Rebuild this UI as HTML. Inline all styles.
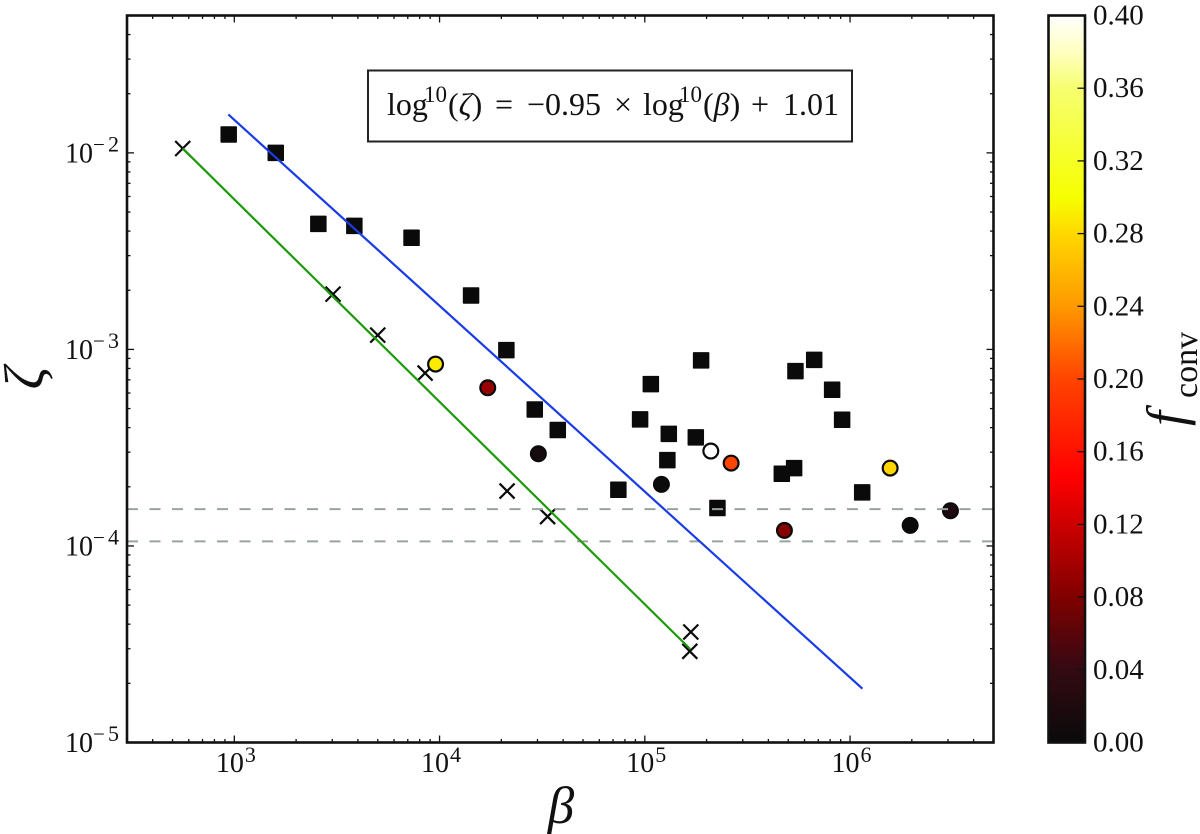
<!DOCTYPE html>
<html lang="en">
<head>
<meta charset="utf-8">
<title>Zeta vs beta scatter chart</title>
<style>
html,body{margin:0;padding:0;background:#fff;width:1200px;height:834px;overflow:hidden}
svg{display:block}
text{font-family:"Liberation Serif",serif;fill:#111}
</style>
</head>
<body>
<svg id="chart" xmlns="http://www.w3.org/2000/svg" width="1200" height="834" viewBox="0 0 1200 834">
  <defs>
    <linearGradient id="hot-gradient" x1="0" y1="1" x2="0" y2="0"></linearGradient>
  </defs>
  <rect x="0" y="0" width="1200" height="834" fill="#fff"/>
  <g id="marks"></g>
  <g id="axes"></g>
  <g id="colorbar"></g>

  <g>
    <rect x="368" y="70.5" width="484" height="71" fill="#fff" stroke="#222" stroke-width="2"/>
    <text font-size="32" y="115"><tspan x="387">log</tspan><tspan x="424" y="102" font-size="23">10</tspan><tspan x="448" y="115">(</tspan><tspan font-style="italic">ζ</tspan><tspan>)</tspan><tspan x="495">=</tspan><tspan x="527">−0.95</tspan><tspan x="614">×</tspan><tspan x="643">log</tspan><tspan x="679" y="102" font-size="23">10</tspan><tspan x="703" y="115">(</tspan><tspan font-style="italic">β</tspan><tspan>)</tspan><tspan x="751">+</tspan><tspan x="783">1.01</tspan></text>
  </g>

  <text font-size="56" font-style="italic" text-anchor="middle" transform="translate(43,378) rotate(-90)">ζ</text>
  <text font-size="53" font-style="italic" text-anchor="middle" x="561" y="823">β</text>
  <text transform="translate(1184,426) rotate(-90)"><tspan font-size="54" font-style="italic">f</tspan><tspan font-size="34" dy="13" dx="13">conv</tspan></text>
</svg>

<script>
// ----- chart data -----
var squareBeta = [939,1592,2567,3844,7303,14240,21160,29100,37670,74330,94860,107000,130900,128800,188100,177200,225900,465100,534000,542000,669000,818000,915000,1146000];
var squareZeta = [0.01241,0.0100,0.00435,0.00425,0.00370,0.001882,0.000992,0.000495,0.000389,0.0001932,0.0004405,0.000666,0.000372,0.0002735,0.000879,0.000357,0.0001559,0.000233,0.000249,0.000776,0.000885,0.000623,0.0004385,0.0001873];

var circleBeta = [9561,17170,30300,120500,209700,263400,479000,1568000,1963000,3085000];
var circleZeta = [0.000842,0.000638,0.0002944,0.0002057,0.000304,0.000264,0.000120,0.000249,0.0001273,0.000151];
var circleFconv = [0.29,0.092,0.012,0.003,0.40,0.20,0.083,0.278,0.0,0.018];

var crossBeta = [560.5,3027,4998,8500,21330,33600,167600,165700];
var crossZeta = [0.01053,0.001911,0.001182,0.000758,0.0001903,0.0001411,0.0000365,0.0000291];

var blueLineBeta = [935,1149000];
var blueLineZeta = [0.01568,0.00001878];
var greenLineBeta = [560.5,166300];
var greenLineZeta = [0.01053,0.0000299];

var thresholdZeta = [0.000154,0.0001055];

var xDecades = [3,4,5,6];
var yDecades = [-2,-3,-4,-5];
var xLimits = [300,5000000];
var yLimits = [0.00001,0.05];
var minorMultipliers = [2,3,4,5,6,7,8,9];

var colorbarTicks = ["0.00","0.04","0.08","0.12","0.16","0.20","0.24","0.28","0.32","0.36","0.40"];
var colorbarLimits = [0,0.4];
var cmapLevels = [0,0.04,0.08,0.146,0.2,0.24,0.28,0.30,0.36,0.38,0.4];
var cmapColors = ["#0a0a0a","#330a12","#800000","#ff0000","#ff4400","#ff9900","#ffd800","#f6ff00","#f6ff70","#ffffc0","#ffffff"];

// ----- frame geometry and axis functions -----
var L = 127, R = 993.5, T = 15.5, B = 742.5;
var CL = 1048.5, CR = 1085;
var SVGNS = "http://www.w3.org/2000/svg";

function sx(v){
  var a = Math.log10(xLimits[0]), b = Math.log10(xLimits[1]);
  return L + (Math.log10(v) - a) / (b - a) * (R - L);
}
function sy(v){
  var a = Math.log10(yLimits[0]), b = Math.log10(yLimits[1]);
  return B - (Math.log10(v) - a) / (b - a) * (B - T);
}
function cy(v){
  return B - (v - colorbarLimits[0]) / (colorbarLimits[1] - colorbarLimits[0]) * (B - T);
}
function hexToRgb(h){
  return [parseInt(h.substr(1,2),16),parseInt(h.substr(3,2),16),parseInt(h.substr(5,2),16)];
}
function cmap(f){
  var i = 0;
  if (f <= cmapLevels[0]) return cmapColors[0];
  if (f >= cmapLevels[cmapLevels.length-1]) return cmapColors[cmapColors.length-1];
  while (f > cmapLevels[i+1]) i++;
  var t = (f - cmapLevels[i]) / (cmapLevels[i+1] - cmapLevels[i]);
  var a = hexToRgb(cmapColors[i]), b = hexToRgb(cmapColors[i+1]);
  return "rgb(" + Math.round(a[0]+(b[0]-a[0])*t) + "," + Math.round(a[1]+(b[1]-a[1])*t) + "," + Math.round(a[2]+(b[2]-a[2])*t) + ")";
}
function mk(tag, attrs, parent){
  var el = document.createElementNS(SVGNS, tag);
  for (var k in attrs) el.setAttribute(k, attrs[k]);
  parent.appendChild(el);
  return el;
}

var marks = document.getElementById("marks");
var axes = document.getElementById("axes");
var cbar = document.getElementById("colorbar");

// ----- crosses -----
crossBeta.forEach(function(b, i){
  var x = sx(b), y = sy(crossZeta[i]), r = 7.5;
  var el = mk("path", {d:"M"+(x-r)+" "+(y-r)+"L"+(x+r)+" "+(y+r)+"M"+(x-r)+" "+(y+r)+"L"+(x+r)+" "+(y-r), stroke:"#0a0a0a", "stroke-width":2.2, fill:"none"}, marks);
  
  
});

// ----- squares -----
squareBeta.forEach(function(b, i){
  var x = sx(b), y = sy(squareZeta[i]), s = 16.5;
  var el = mk("rect", {x:x-s/2, y:y-s/2, width:s, height:s, rx:0.8, fill:"#0a0a0a"}, marks);
  
  
});

// ----- circles -----
circleBeta.forEach(function(b, i){
  var el = mk("circle", {cx:sx(b), cy:sy(circleZeta[i]), r:7.4, fill:cmap(circleFconv[i]), stroke:"#0a0a0a", "stroke-width":2.2}, marks);
  
  
});

// ----- threshold dashed lines -----
thresholdZeta.forEach(function(z){
  var el = mk("line", {x1:L, x2:R, y1:sy(z), y2:sy(z), stroke:"#98a3a0", "stroke-width":2, "stroke-dasharray":"11 11.5"}, marks);
  
  
});

// ----- fit lines -----
var blueLine = mk("line", {x1:sx(blueLineBeta[0]), y1:sy(blueLineZeta[0]), x2:sx(blueLineBeta[1]), y2:sy(blueLineZeta[1]), stroke:"#1a3ce8", "stroke-width":2.2}, marks);


var greenLine = mk("line", {x1:sx(greenLineBeta[0]), y1:sy(greenLineZeta[0]), x2:sx(greenLineBeta[1]), y2:sy(greenLineZeta[1]), stroke:"#1d9a0c", "stroke-width":2.2}, marks);



// ----- ticks -----
function tickX(px, len){
  var a = mk("line", {x1:px, x2:px, y1:B, y2:B-len, stroke:"#111", "stroke-width":1.3}, axes);
  
  
  var b = mk("line", {x1:px, x2:px, y1:T, y2:T+len, stroke:"#111", "stroke-width":1.3}, axes);
  
  
}
function tickY(py, len){
  var a = mk("line", {x1:L, x2:L+len, y1:py, y2:py, stroke:"#111", "stroke-width":1.3}, axes);
  
  
  var b = mk("line", {x1:R, x2:R-len, y1:py, y2:py, stroke:"#111", "stroke-width":1.3}, axes);
  
  
}
for (var d = 2; d <= 6; d++){
  minorMultipliers.forEach(function(m){
    var v = m * Math.pow(10, d);
    if (v > xLimits[0] && v < xLimits[1]) tickX(sx(v), 3.5);
  });
  if (xDecades.indexOf(d) >= 0) tickX(sx(Math.pow(10, d)), 7);
}
for (var e = -5; e <= -2; e++){
  minorMultipliers.forEach(function(m){
    var v = m * Math.pow(10, e);
    if (v > yLimits[0] && v < yLimits[1]) tickY(sy(v), 3.5);
  });
  if (yDecades.indexOf(e) >= 0) tickY(sy(Math.pow(10, e)), 7);
}

// ----- tick labels -----
xDecades.forEach(function(d){
  var x = sx(Math.pow(10, d));
  var t = mk("text", {y:772, "font-size":28}, axes);
  
  
  var base = mk("tspan", {x:x-18.5}, t);
  base.textContent = "10";
  var sup = mk("tspan", {x:x+10.5, y:762, "font-size":22}, t);
  sup.textContent = String(d);
});
yDecades.forEach(function(e){
  var y = sy(Math.pow(10, e));
  var t = mk("text", {y:y+9.4, "font-size":28}, axes);
  
  
  var base = mk("tspan", {x:65}, t);
  base.textContent = "10";
  var minus = mk("tspan", {x:93, y:y-1.6, "font-size":21}, t);
  minus.textContent = "\u2212";
  var sup = mk("tspan", {x:108, y:y-1.6, "font-size":22}, t);
  sup.textContent = String(-e);
});

// ----- axes frame -----
var frame = mk("rect", {x:L, y:T, width:R-L, height:B-T, fill:"none", stroke:"#111", "stroke-width":2.6}, axes);



// ----- colorbar -----
var grad = document.getElementById("hot-gradient");
cmapLevels.forEach(function(l, i){
  var st = mk("stop", {offset:(l - colorbarLimits[0]) / (colorbarLimits[1] - colorbarLimits[0]), "stop-color":cmapColors[i]}, grad);
  
  
});
var cbRect = mk("rect", {x:CL, y:T, width:CR-CL, height:B-T, fill:"url(#hot-gradient)", stroke:"#111", "stroke-width":2.6}, cbar);


colorbarTicks.forEach(function(lbl){
  var v = parseFloat(lbl), y = cy(v);
  if (v > colorbarLimits[0] && v < colorbarLimits[1]){
    var tk = mk("line", {x1:CR, x2:CR-7.5, y1:y, y2:y, stroke:"#111", "stroke-width":1.3}, cbar);
    
    
  }
  var t = mk("text", {x:1093, y:y+9, "font-size":29}, cbar);
  
  
  t.textContent = lbl;
});
</script>
</body>
</html>
